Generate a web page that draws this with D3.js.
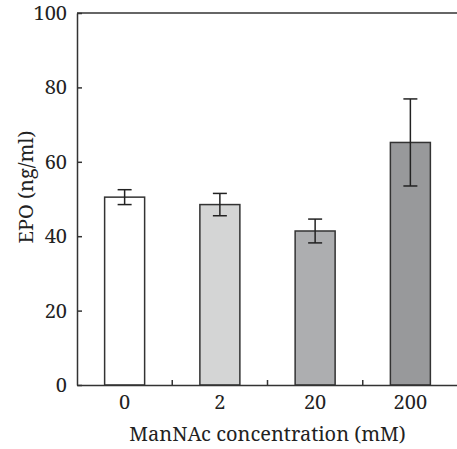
<!DOCTYPE html>
<meta charset="utf-8">
<head>
    <title>EPO by ManNAc concentration</title>
    <script type="text/javascript" src="https://cdn.jsdelivr.net/npm/d3@7/dist/d3.min.js"></script>
    <style>
        body { margin: 0; background: #fff; }
    </style>
</head>
<body>
<script>

// data
var concentrations = ["0", "2", "20", "200"]
var epo = [50.5, 48.5, 41.4, 65.2]
var epoErr = [2.0, 3.0, 3.2, 11.7]
var barColors = ["#ffffff", "#d4d5d5", "#adaeb0", "#98999b"]
var yTicks = [0, 20, 40, 60, 80, 100]

var serif = "'Noto Serif', 'DejaVu Serif', serif"

// svg
var w = 457
var h = 449
var margin = {left: 77, right: 0, top: 13, bottom: 64}

var svg = d3.select("body").append("svg").attr("width", w).attr("height", h);

var x = d3.scaleBand().domain(concentrations).range([margin.left, w + 1]).padding(0)
var y = d3.scaleLinear().domain([0, 100]).range([h - margin.bottom, margin.top])
var barW = 40

// bars
svg.append("g")
    .selectAll("rect")
    .data(concentrations).enter()
    .append("rect")
    .attr("x", function(d) {return x(d) + x.bandwidth()/2 - barW/2})
    .attr("y", function(d, i) {return y(epo[i])})
    .attr("width", barW)
    .attr("height", function(d, i) {return y(0) - y(epo[i])})
    .style("fill", function(d, i) {return barColors[i]})
    .style("stroke", "#333")
    .style("stroke-width", 1.5)

// error bars
var eb = svg.append("g").selectAll("g")
    .data(concentrations).enter()
    .append("g")
    .attr("transform", function(d) {return "translate(" + (x(d) + x.bandwidth()/2) + ",0)"})
    .style("stroke", "#222")
    .style("stroke-width", 1.5)
eb.append("line")
    .attr("y1", function(d, i) {return y(epo[i] + epoErr[i])})
    .attr("y2", function(d, i) {return y(epo[i] - epoErr[i])})
eb.append("line").attr("x1", -7).attr("x2", 7)
    .attr("y1", function(d, i) {return y(epo[i] + epoErr[i])})
    .attr("y2", function(d, i) {return y(epo[i] + epoErr[i])})
eb.append("line").attr("x1", -7).attr("x2", 7)
    .attr("y1", function(d, i) {return y(epo[i] - epoErr[i])})
    .attr("y2", function(d, i) {return y(epo[i] - epoErr[i])})

// y axis
var yAxis = svg.append("g")
    .attr("transform", "translate(" + margin.left + ",0)")
    .call(d3.axisLeft(y).tickValues(yTicks).tickSizeInner(-5).tickSizeOuter(0).tickPadding(10))
yAxis.attr("font-family", serif).attr("font-size", 20)
yAxis.select(".domain").style("stroke", "#333").style("stroke-width", 1.5)
yAxis.selectAll(".tick line").style("stroke", "#333").style("stroke-width", 1.5)
yAxis.selectAll("text").style("fill", "#222")

// x axis with ticks between the categories
var xAxis = svg.append("g")
    .attr("transform", "translate(0," + y(0) + ")")
    .call(d3.axisBottom(x).tickSize(0).tickPadding(10))
xAxis.attr("font-family", serif).attr("font-size", 20)
xAxis.select(".domain").style("stroke", "#333").style("stroke-width", 1.5)
xAxis.selectAll("text").style("fill", "#222")
svg.append("g").selectAll("line")
    .data(concentrations.slice(1)).enter()
    .append("line")
    .attr("x1", function(d) {return x(d)})
    .attr("x2", function(d) {return x(d)})
    .attr("y1", y(0))
    .attr("y2", y(0) - 5)
    .style("stroke", "#333")
    .style("stroke-width", 1.5)

// top border
svg.append("line")
    .attr("x1", margin.left).attr("x2", w)
    .attr("y1", y(100)).attr("y2", y(100))
    .style("stroke", "#333")
    .style("stroke-width", 1.5)

// titles
svg.append("text")
    .attr("x", (margin.left + w) / 2 + 0.5)
    .attr("y", 441)
    .attr("text-anchor", "middle")
    .attr("font-family", serif)
    .attr("font-size", 20)
    .style("fill", "#222")
    .text("ManNAc concentration (mM)");
svg.append("text")
    .attr("transform", "translate(33,187) rotate(-90)")
    .attr("text-anchor", "middle")
    .attr("font-family", serif)
    .attr("font-size", 20)
    .style("fill", "#222")
    .text("EPO (ng/ml)");

</script>
</body>
</html>
